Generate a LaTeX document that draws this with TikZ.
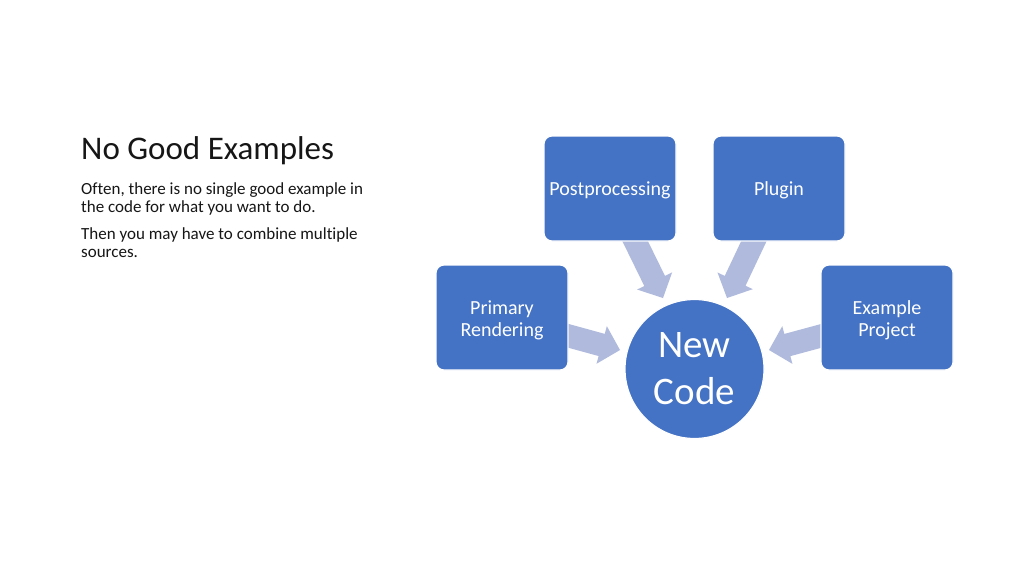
\documentclass[tikz,border=0pt]{standalone}
\usepackage{fontspec}
\setmainfont[Ligatures=NoCommon]{Carlito}
\usetikzlibrary{calc,backgrounds}
\definecolor{boxblue}{RGB}{68,114,196}
\definecolor{arrowblue}{RGB}{175,186,221}
\definecolor{textgray}{RGB}{22,22,22}
\newcommand\blockarrow[3]{%
  \coordinate (#3b) at ($(#2)!19pt!(#1)$);
  \fill[arrowblue] ($(#1)!11.5pt!90:(#2)$) -- ($(#3b)!11.5pt!90:(#2)$) -- ($(#3b)!19.5pt!90:(#2)$)
    -- (#2) -- ($(#3b)!19.5pt!-90:(#2)$) -- ($(#3b)!11.5pt!-90:(#2)$) -- ($(#1)!11.5pt!-90:(#2)$) -- cycle;
}
\newcommand\lowstrut{\rule{0pt}{19pt}}
\begin{document}
\begin{tikzpicture}[x=1pt,y=-1pt,
  box/.style={draw=white, line width=1.2pt, fill=boxblue, rounded corners=8pt,
    minimum width=132pt, minimum height=105pt, text=white, inner sep=0pt,
    font=\fontsize{20}{22}\selectfont, align=center},
  hub/.style={circle, draw=white, line width=1.2pt, fill=boxblue, minimum size=139pt,
    text=white, inner sep=0pt, font=\fontsize{39}{47}\selectfont, align=center},
  titletext/.style={anchor=base west, inner sep=0pt, text=textgray, font=\fontsize{33}{38}\selectfont},
  bodytext/.style={anchor=base west, inner sep=0pt, text=textgray, font=\fontsize{17}{18}\selectfont}]
\useasboundingbox (0,0) rectangle (1024,576);

% text
\node[titletext] (title) at (81,159) {No Good Examples};
\node[bodytext] (l1) at (81,194) {Often, there is no single good example in};
\node[bodytext] (l2) at (81,212) {the code for what you want to do.};
\node[bodytext] (l3) at (81,239) {Then you may have to combine multiple};
\node[bodytext] (l4) at (81,257) {sources.};

% boxes
\node[box] (post) at (610,188.5) {\rule{0pt}{17.5pt}Postprocessing};
\node[box] (plug) at (779,188.5) {\rule{0pt}{17.5pt}Plugin};
\node[box] (prim) at (502,317.5) {\lowstrut Primary\\Rendering};
\node[box] (ex) at (887,317.5) {\lowstrut Example\\Project};
\node[hub] (hub) at (694.5,369) {New\\Code};

% arrows (behind)
\coordinate (t1) at (629.4,229.5); \coordinate (p1) at (663,298);
\coordinate (t2) at (759.4,229.5); \coordinate (p2) at (727,298);
\coordinate (t3) at (554.5,332);   \coordinate (p3) at (620,350);
\coordinate (t4) at (835.5,332);   \coordinate (p4) at (769,350);
\begin{scope}[on background layer]
  \fill[white] (0,0) rectangle (1024,576);
  \blockarrow{t1}{p1}{a1}
  \blockarrow{t2}{p2}{a2}
  \blockarrow{t3}{p3}{a3}
  \blockarrow{t4}{p4}{a4}
\end{scope}
\end{tikzpicture}
\end{document}
